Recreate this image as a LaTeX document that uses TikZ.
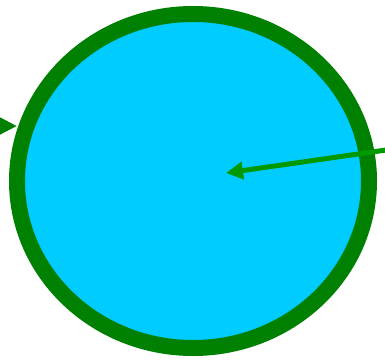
\documentclass[tikz,border=0pt]{standalone}
\usetikzlibrary{arrows.meta}
\definecolor{ringgreen}{RGB}{0,128,0}
\definecolor{arrowgreen}{RGB}{0,153,0}
\definecolor{skyfill}{RGB}{0,204,255}
\begin{document}
\begin{tikzpicture}[x=1pt,y=-1pt,
  ring/.style={draw=ringgreen,fill=skyfill,line width=16pt},
  pointer/.style={draw=arrowgreen,line width=5pt,-{Triangle[length=17pt,width=17pt]}},
  sidepointer/.style={draw=ringgreen,line width=5pt,-{Triangle[length=17pt,width=16pt]}}]
\useasboundingbox (0,0) rectangle (385,361);
\clip (0,0) rectangle (385,361);
\coordinate (c) at (193,181);
\draw[ring] (c) ellipse [x radius=176, y radius=167];
\coordinate (tip) at (226,173);
\coordinate (tail) at (400,148);
\draw[pointer] (tail) -- (tip);
\coordinate (ltip) at (17,126);
\coordinate (ltail) at (-40,126);
\draw[sidepointer] (ltail) -- (ltip);
\end{tikzpicture}
\end{document}
